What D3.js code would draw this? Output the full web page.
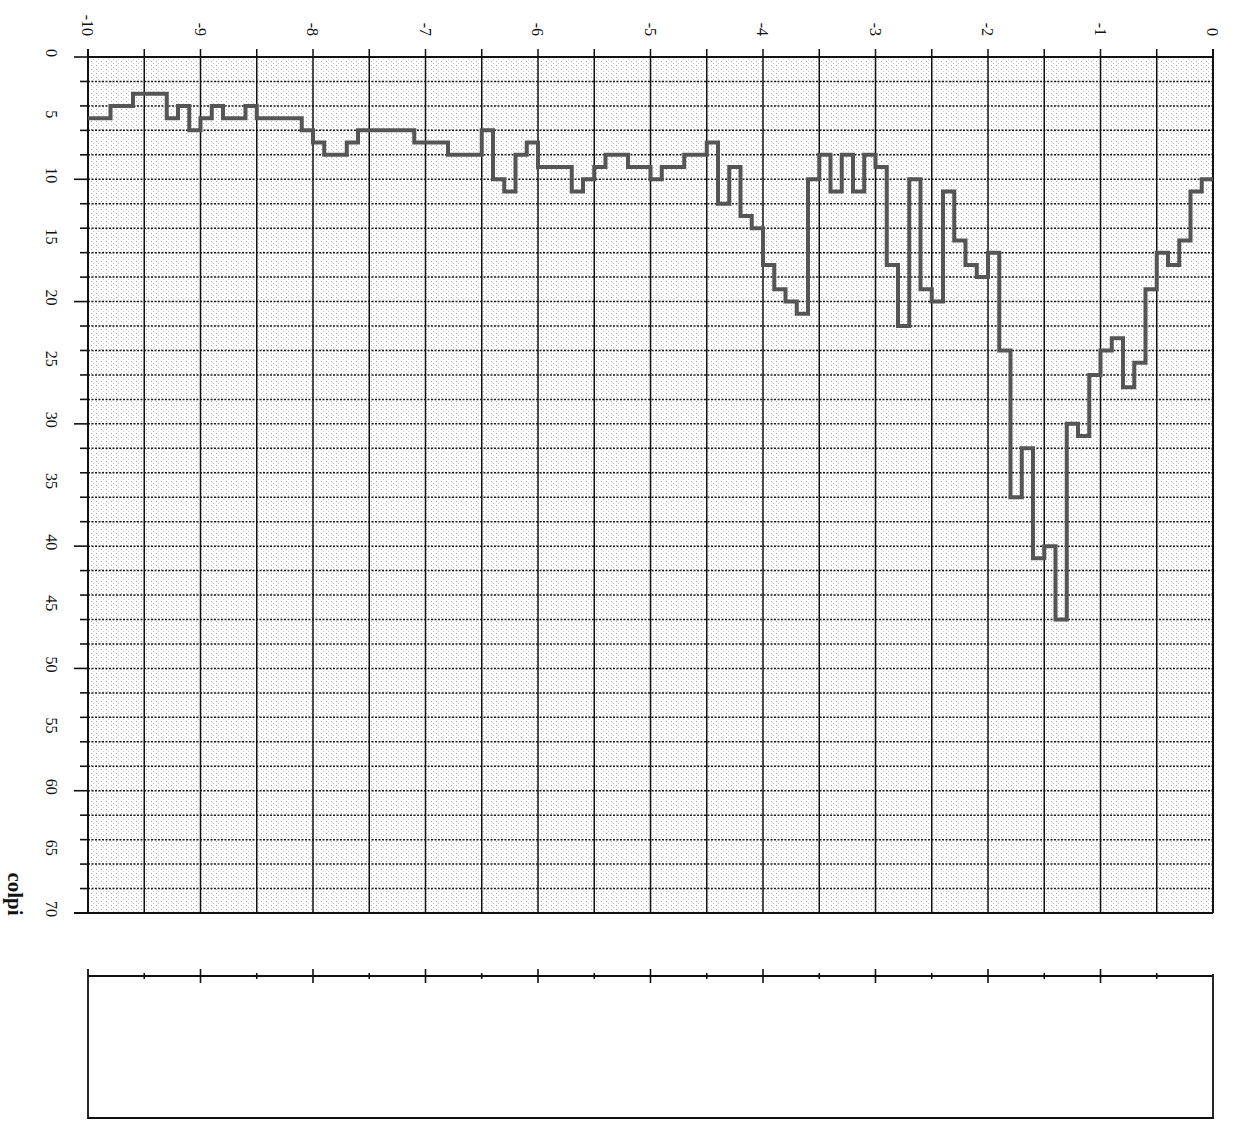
<!DOCTYPE html>
<html>
<head>
<meta charset="utf-8">
<script src="https://cdn.jsdelivr.net/npm/d3@7"></script>
<style>
  body { margin: 0; background: #fff; }
  text { font-family: "Liberation Serif", "DejaVu Serif", serif; fill: #111; }
</style>
</head>
<body>
<div id="chart"></div>
<script>
// left edge of each 0.1-wide bin
const binStart = [
  -10.0, -9.9, -9.8, -9.7, -9.6, -9.5, -9.4, -9.3, -9.2, -9.1,
  -9.0, -8.9, -8.8, -8.7, -8.6, -8.5, -8.4, -8.3, -8.2, -8.1,
  -8.0, -7.9, -7.8, -7.7, -7.6, -7.5, -7.4, -7.3, -7.2, -7.1,
  -7.0, -6.9, -6.8, -6.7, -6.6, -6.5, -6.4, -6.3, -6.2, -6.1,
  -6.0, -5.9, -5.8, -5.7, -5.6, -5.5, -5.4, -5.3, -5.2, -5.1,
  -5.0, -4.9, -4.8, -4.7, -4.6, -4.5, -4.4, -4.3, -4.2, -4.1,
  -4.0, -3.9, -3.8, -3.7, -3.6, -3.5, -3.4, -3.3, -3.2, -3.1,
  -3.0, -2.9, -2.8, -2.7, -2.6, -2.5, -2.4, -2.3, -2.2, -2.1,
  -2.0, -1.9, -1.8, -1.7, -1.6, -1.5, -1.4, -1.3, -1.2, -1.1,
  -1.0, -0.9, -0.8, -0.7, -0.6, -0.5, -0.4, -0.3, -0.2, -0.1
];
const binEnd = 0;

// colpi per bin
const colpi = [
  5, 5, 4, 4, 3, 3, 3, 5, 4, 6,
  5, 4, 5, 5, 4, 5, 5, 5, 5, 6,
  7, 8, 8, 7, 6, 6, 6, 6, 6, 7,
  7, 7, 8, 8, 8, 6, 10, 11, 8, 7,
  9, 9, 9, 11, 10, 9, 8, 8, 9, 9,
  10, 9, 9, 8, 8, 7, 12, 9, 13, 14,
  17, 19, 20, 21, 10, 8, 11, 8, 11, 8,
  9, 17, 22, 10, 19, 20, 11, 15, 17, 18,
  16, 24, 36, 32, 41, 40, 46, 30, 31, 26,
  24, 23, 27, 25, 19, 16, 17, 15, 11, 10
];

const xTickLabels = [-10, -9, -8, -7, -6, -5, -4, -3, -2, -1, 0];
const yTickLabels = [0, 5, 10, 15, 20, 25, 30, 35, 40, 45, 50, 55, 60, 65, 70];

const W = 1235, H = 1125;
const plot = {left: 88, right: 1213, top: 57, bottom: 913};
const panel = {top: 976, bottom: 1118};

const svg = d3.select('#chart').append('svg')
  .attr('width', W)
  .attr('height', H);

// faint photocopy speckle inside the plot
const pat = svg.append('defs').append('pattern')
  .attr('id', 'speckle')
  .attr('width', 5).attr('height', 4)
  .attr('patternUnits', 'userSpaceOnUse');
pat.append('rect').attr('x', 1).attr('y', 1).attr('width', 1).attr('height', 1).attr('fill', '#aaa');
pat.append('rect').attr('x', 3).attr('y', 3).attr('width', 1).attr('height', 1).attr('fill', '#ccc');

const x = d3.scaleLinear().domain([-10, 0]).range([plot.left, plot.right]);
const y = d3.scaleLinear().domain([0, 70]).range([plot.top, plot.bottom]);

const halfTicks = x.ticks(20);      // every 0.5
const yGrid = y.ticks(28);          // every 2.5

svg.append('rect')
  .attr('x', plot.left).attr('y', plot.top)
  .attr('width', plot.right - plot.left).attr('height', plot.bottom - plot.top)
  .attr('fill', 'url(#speckle)');

// horizontal dotted grid
svg.append('g')
  .selectAll('line')
  .data(yGrid.filter(d => d > 0 && d < 70))
  .join('line')
  .attr('x1', plot.left).attr('x2', plot.right)
  .attr('y1', d => y(d)).attr('y2', d => y(d))
  .attr('stroke', '#1a1a1a')
  .attr('stroke-width', 1.5)
  .attr('stroke-dasharray', '2,1.5');

// solid ticks to the left of the frame
svg.append('g')
  .selectAll('line')
  .data(yGrid)
  .join('line')
  .attr('x1', d => d % 5 === 0 ? plot.left - 14 : plot.left - 8).attr('x2', plot.left)
  .attr('y1', d => y(d)).attr('y2', d => y(d))
  .attr('stroke', '#111')
  .attr('stroke-width', 1.6);

// vertical grid lines, poking above the frame
svg.append('g')
  .selectAll('line')
  .data(halfTicks)
  .join('line')
  .attr('x1', d => x(d)).attr('x2', d => x(d))
  .attr('y1', plot.top - 8).attr('y2', plot.bottom)
  .attr('stroke', '#111')
  .attr('stroke-width', d => (d === -10 || d === 0) ? 2 : 1.5);

// frame top & bottom
svg.append('line')
  .attr('x1', plot.left).attr('x2', plot.right).attr('y1', plot.top).attr('y2', plot.top)
  .attr('stroke', '#111').attr('stroke-width', 2);
svg.append('line')
  .attr('x1', plot.left - 14).attr('x2', plot.right).attr('y1', plot.bottom).attr('y2', plot.bottom)
  .attr('stroke', '#111').attr('stroke-width', 2);

// step line
const pts = binStart.map((b, i) => [b, colpi[i]]);
pts.push([binEnd, colpi[colpi.length - 1]]);

const step = d3.line()
  .x(d => x(d[0]))
  .y(d => y(d[1]))
  .curve(d3.curveStepAfter);

svg.append('path')
  .datum(pts)
  .attr('d', step)
  .attr('fill', 'none')
  .attr('stroke', '#555')
  .attr('stroke-width', 4)
  .attr('stroke-linejoin', 'miter');

// x tick labels (rotated, like the scanned page)
svg.append('g')
  .selectAll('text')
  .data(xTickLabels)
  .join('text')
  .attr('transform', d => `translate(${x(d)},36) rotate(90)`)
  .attr('text-anchor', 'end')
  .attr('dy', '0.35em')
  .style('font-size', '16px')
  .text(d => d);

// y tick labels
svg.append('g')
  .selectAll('text')
  .data(yTickLabels)
  .join('text')
  .attr('transform', d => `translate(52,${y(d) - 4}) rotate(90)`)
  .attr('text-anchor', 'middle')
  .attr('dy', '0.35em')
  .style('font-size', '16px')
  .text(d => d);

// axis title
svg.append('text')
  .attr('transform', `translate(15,894) rotate(90)`)
  .attr('text-anchor', 'middle')
  .attr('dy', '0.35em')
  .style('font-size', '21px')
  .style('font-weight', 'bold')
  .text('colpi');

// empty lower panel
const lower = svg.append('g');
lower.append('path')
  .attr('d', `M${plot.left},${panel.top - 7}V${panel.bottom}H${plot.right}V${panel.top - 2}`)
  .attr('fill', 'none')
  .attr('stroke', '#111')
  .attr('stroke-width', 1.8);
lower.append('line')
  .attr('x1', plot.left).attr('x2', plot.right).attr('y1', panel.top).attr('y2', panel.top)
  .attr('stroke', '#111').attr('stroke-width', 1.8);
lower.selectAll('.tk')
  .data(halfTicks.filter(d => d > -10 && d < 0))
  .join('line')
  .attr('class', 'tk')
  .attr('x1', d => x(d)).attr('x2', d => x(d))
  .attr('y1', d => Number.isInteger(d) ? panel.top - 7 : panel.top - 3)
  .attr('y2', d => Number.isInteger(d) ? panel.top + 7 : panel.top + 3)
  .attr('stroke', '#111')
  .attr('stroke-width', 1.6);
</script>
</body>
</html>
